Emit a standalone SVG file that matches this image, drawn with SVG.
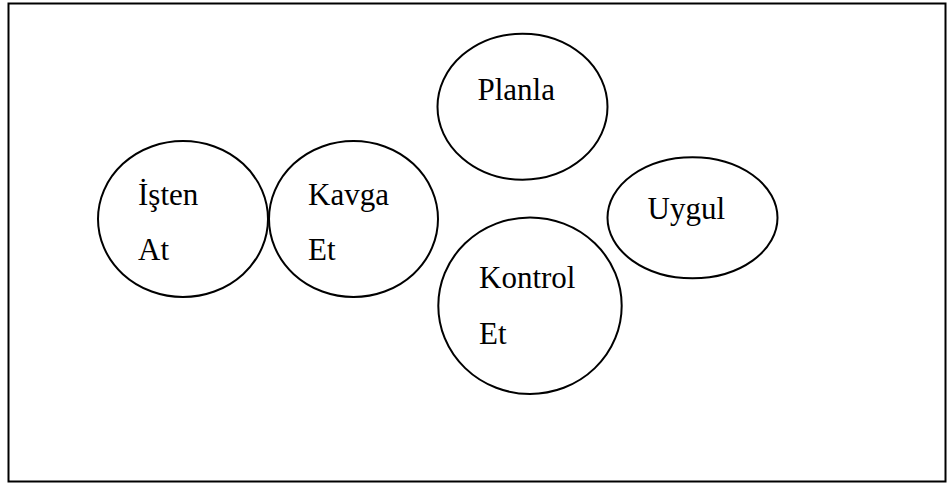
<svg xmlns="http://www.w3.org/2000/svg" width="949" height="485" viewBox="0 0 949 485">
<style>
.n{fill:#fff;stroke:#000;stroke-width:2}
.t{font-family:"Liberation Serif","Times New Roman",serif;font-size:31px;fill:#000}
</style>
<rect x="0" y="0" width="949" height="485" fill="#fff"/>
<rect x="8.5" y="3.5" width="937" height="478" fill="none" stroke="#000" stroke-width="2"/>
<g id="connectors"></g>
<g id="isten-at">
<ellipse class="n" cx="183" cy="219" rx="85" ry="78"/>
<text class="t" x="138" y="205">İşten</text>
<text class="t" x="138" y="260">At</text>
</g>
<g id="kavga-et">
<ellipse class="n" cx="353.5" cy="219" rx="84.5" ry="78"/>
<text class="t" x="308" y="205">Kavga</text>
<text class="t" x="308" y="260">Et</text>
</g>
<g id="planla">
<ellipse class="n" cx="522.5" cy="106.7" rx="85" ry="73"/>
<text class="t" x="477.5" y="100">Planla</text>
</g>
<g id="uygul">
<ellipse class="n" cx="692.5" cy="217.8" rx="85" ry="60.5"/>
<text class="t" x="647.5" y="219">Uygul</text>
</g>
<g id="kontrol-et">
<ellipse class="n" cx="530" cy="305.7" rx="91.7" ry="88.3"/>
<text class="t" x="479" y="288">Kontrol</text>
<text class="t" x="479" y="344">Et</text>
</g>
</svg>
